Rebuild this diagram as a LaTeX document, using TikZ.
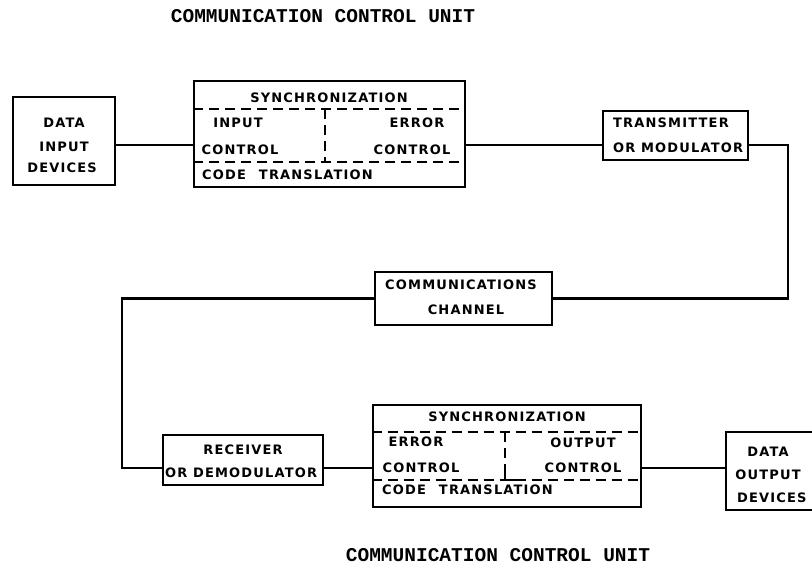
\documentclass[tikz,border=0pt]{standalone}
\usepackage{fontspec}
\newfontfamily\typew{Liberation Mono}
\newfontfamily\hand{DejaVu Sans}[LetterSpace=9]
\begin{document}
\begin{tikzpicture}[x=1pt,y=-1pt,
  boxnode/.style={draw, line width=2.5pt, inner sep=0pt},
  lab/.style={font=\hand\bfseries\fontsize{13}{15}\selectfont, inner sep=0pt},
  ttl/.style={font=\typew\bfseries\fontsize{19.5}{22}\selectfont, inner sep=0pt},
  wire/.style={line width=2.3pt},
  sepline/.style={line width=2.3pt, dash pattern=on 10pt off 6pt}]
\fill[white] (0,0) rectangle (812,569);
\useasboundingbox (0,0) rectangle (812,569);

% titles
\node[ttl] (t1) at (323,16) {COMMUNICATION CONTROL UNIT};
\node[ttl] (t2) at (498,555) {COMMUNICATION CONTROL UNIT};

% boxes
\node[boxnode, minimum width=102pt, minimum height=88pt] (din) at (64,141) {};
\node[boxnode, minimum width=271pt, minimum height=106pt] (ccu1) at (329.5,134) {};
\node[boxnode, minimum width=145pt, minimum height=49pt] (tx) at (675.5,135.5) {};
\node[boxnode, minimum width=177pt, minimum height=53pt] (ch) at (463.5,298.5) {};
\node[boxnode, minimum width=160pt, minimum height=50pt] (rx) at (243,460) {};
\node[boxnode, minimum width=268pt, minimum height=102pt] (ccu2) at (507,456) {};
\node[boxnode, minimum width=124pt, minimum height=78pt] (dout) at (788,471) {};

% inner separators
\coordinate (a1) at (0,109); \coordinate (a2) at (0,162); \coordinate (av) at (325,0);
\draw[sepline] (ccu1.west |- a1) -- (ccu1.east |- a1);
\draw[sepline] (ccu1.west |- a2) -- (ccu1.east |- a2);
\draw[sepline] (av |- a1) -- (av |- a2);
\coordinate (b1) at (0,432); \coordinate (b2) at (0,480); \coordinate (bv) at (505,0);
\draw[sepline] (ccu2.west |- b1) -- (ccu2.east |- b1);
\draw[sepline] (ccu2.west |- b2) -- (ccu2.east |- b2);
\draw[sepline] (bv |- b1) -- (bv |- b2);
\draw[line width=2.3pt] (bv |- 0,468) -- (bv |- b2) -- ++(12,0);

% texts
\node[lab] (dinA) at (64,123) {DATA};
\node[lab] (dinB) at (64,147) {INPUT};
\node[lab] (dinC) at (62,168) {DEVICES};

\node[lab] (s1) at (329,98) {SYNCHRONIZATION};
\node[lab] (i1) at (238,123) {INPUT};
\node[lab] (c1a) at (240,150) {CONTROL};
\node[lab] (e1) at (417,123) {ERROR};
\node[lab] (c1b) at (412,150) {CONTROL};
\node[lab, anchor=west] (k1) at (202,175) {CODE\hspace{1em}TRANSLATION};

\node[lab, anchor=west] (txA) at (613,123) {TRANSMITTER};
\node[lab, anchor=west] (txB) at (613,148) {OR MODULATOR};

\node[lab] (chA) at (461,285) {COMMUNICATIONS};
\node[lab] (chB) at (466,310) {CHANNEL};

\node[lab] (rxA) at (243,450) {RECEIVER};
\node[lab, anchor=west] (rxB) at (165,473) {OR DEMODULATOR};

\node[lab] (s2) at (507,417) {SYNCHRONIZATION};
\node[lab] (e2) at (416,442) {ERROR};
\node[lab] (c2a) at (421,468) {CONTROL};
\node[lab] (o2) at (583,443) {OUTPUT};
\node[lab] (c2b) at (583,468) {CONTROL};
\node[lab, anchor=west] (k2) at (382,490) {CODE\hspace{1em}TRANSLATION};

\node[lab] (doA) at (768,452) {DATA};
\node[lab] (doB) at (768,475) {OUTPUT};
\node[lab, anchor=west] (doC) at (737,498) {DEVICES};

% connectors
\coordinate (rowA) at (0,145);
\coordinate (rowC) at (0,468);
\coordinate (rt) at (788,0);
\coordinate (lf) at (122,0);
\draw[wire] (din.east |- rowA) -- (ccu1.west |- rowA);
\draw[wire] (ccu1.east |- rowA) -- (tx.west |- rowA);
\draw[wire] (tx.east |- rowA) -| (rt |- ch.east) -- (ch.east);
\draw[wire] (ch.west) -| (lf |- rowC) -- (rx.west |- rowC);
\draw[wire] (rx.east |- rowC) -- (ccu2.west |- rowC);
\draw[wire] (ccu2.east |- rowC) -- (dout.west |- rowC);
\end{tikzpicture}
\end{document}
